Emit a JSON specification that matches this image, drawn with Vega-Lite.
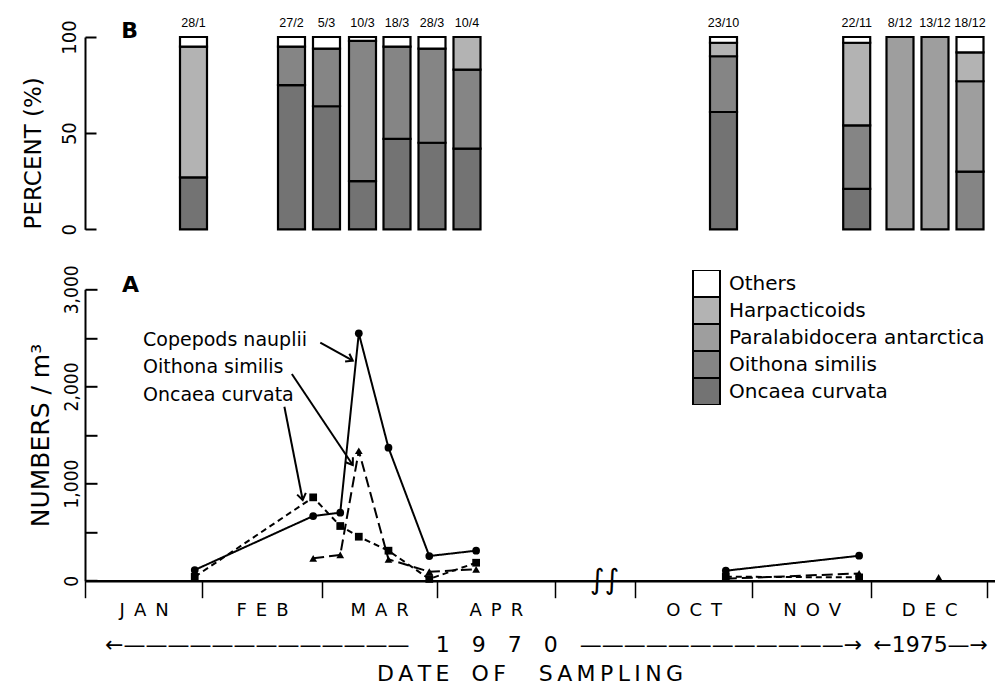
{
  "$schema": "https://vega.github.io/schema/vega-lite/v6.json",
  "background": "white",
  "padding": {"left": 22, "top": 17, "right": 0, "bottom": 0},
  "config": {
    "view": {"stroke": null},
    "axis": {"labelColor": "black", "titleColor": "black", "domainColor": "black", "tickColor": "black", "grid": false}
  },
  "datasets": {
    "bars": [
      {"date": "1970/01/28", "label": "28/1", "taxon": "Oncaea curvata", "pct": 27},
      {"date": "1970/01/28", "label": "28/1", "taxon": "Harpacticoids", "pct": 68},
      {"date": "1970/01/28", "label": "28/1", "taxon": "Others", "pct": 5},
      {"date": "1970/02/27", "label": "27/2", "taxon": "Oncaea curvata", "pct": 75},
      {"date": "1970/02/27", "label": "27/2", "taxon": "Oithona similis", "pct": 20},
      {"date": "1970/02/27", "label": "27/2", "taxon": "Others", "pct": 5},
      {"date": "1970/03/05", "label": "5/3", "taxon": "Oncaea curvata", "pct": 64},
      {"date": "1970/03/05", "label": "5/3", "taxon": "Oithona similis", "pct": 30},
      {"date": "1970/03/05", "label": "5/3", "taxon": "Others", "pct": 6},
      {"date": "1970/03/10", "label": "10/3", "taxon": "Oncaea curvata", "pct": 25},
      {"date": "1970/03/10", "label": "10/3", "taxon": "Oithona similis", "pct": 73},
      {"date": "1970/03/10", "label": "10/3", "taxon": "Others", "pct": 2},
      {"date": "1970/03/18", "label": "18/3", "taxon": "Oncaea curvata", "pct": 47},
      {"date": "1970/03/18", "label": "18/3", "taxon": "Oithona similis", "pct": 48},
      {"date": "1970/03/18", "label": "18/3", "taxon": "Others", "pct": 5},
      {"date": "1970/03/28", "label": "28/3", "taxon": "Oncaea curvata", "pct": 45},
      {"date": "1970/03/28", "label": "28/3", "taxon": "Oithona similis", "pct": 49},
      {"date": "1970/03/28", "label": "28/3", "taxon": "Others", "pct": 6},
      {"date": "1970/04/10", "label": "10/4", "taxon": "Oncaea curvata", "pct": 42},
      {"date": "1970/04/10", "label": "10/4", "taxon": "Oithona similis", "pct": 41},
      {"date": "1970/04/10", "label": "10/4", "taxon": "Harpacticoids", "pct": 17},
      {"date": "1970/10/23", "label": "23/10", "taxon": "Oncaea curvata", "pct": 61},
      {"date": "1970/10/23", "label": "23/10", "taxon": "Oithona similis", "pct": 29},
      {"date": "1970/10/23", "label": "23/10", "taxon": "Harpacticoids", "pct": 7},
      {"date": "1970/10/23", "label": "23/10", "taxon": "Others", "pct": 3},
      {"date": "1970/11/22", "label": "22/11", "taxon": "Oncaea curvata", "pct": 21},
      {"date": "1970/11/22", "label": "22/11", "taxon": "Oithona similis", "pct": 33},
      {"date": "1970/11/22", "label": "22/11", "taxon": "Harpacticoids", "pct": 43},
      {"date": "1970/11/22", "label": "22/11", "taxon": "Others", "pct": 3},
      {"date": "1975/12/08", "label": "8/12", "taxon": "Paralabidocera antarctica", "pct": 100},
      {"date": "1975/12/13", "label": "13/12", "taxon": "Paralabidocera antarctica", "pct": 100},
      {"date": "1975/12/18", "label": "18/12", "taxon": "Oithona similis", "pct": 30},
      {"date": "1975/12/18", "label": "18/12", "taxon": "Paralabidocera antarctica", "pct": 47},
      {"date": "1975/12/18", "label": "18/12", "taxon": "Harpacticoids", "pct": 15},
      {"date": "1975/12/18", "label": "18/12", "taxon": "Others", "pct": 8}
    ],
    "counts": [
      {"series": "Copepods nauplii", "date": "1970/01/30", "n": 110, "period": "1970a"},
      {"series": "Copepods nauplii", "date": "1970/02/27", "n": 666, "period": "1970a"},
      {"series": "Copepods nauplii", "date": "1970/03/06", "n": 700, "period": "1970a"},
      {"series": "Copepods nauplii", "date": "1970/03/11", "n": 2547, "period": "1970a"},
      {"series": "Copepods nauplii", "date": "1970/03/19", "n": 1369, "period": "1970a"},
      {"series": "Copepods nauplii", "date": "1970/03/30", "n": 254, "period": "1970a"},
      {"series": "Copepods nauplii", "date": "1970/04/11", "n": 309, "period": "1970a"},
      {"series": "Copepods nauplii", "date": "1970/10/25", "n": 103, "period": "1970b"},
      {"series": "Copepods nauplii", "date": "1970/11/28", "n": 257, "period": "1970b"},
      {"series": "Oithona similis", "date": "1970/02/27", "n": 230, "period": "1970a"},
      {"series": "Oithona similis", "date": "1970/03/06", "n": 265, "period": "1970a"},
      {"series": "Oithona similis", "date": "1970/03/11", "n": 1338, "period": "1970a"},
      {"series": "Oithona similis", "date": "1970/03/19", "n": 220, "period": "1970a"},
      {"series": "Oithona similis", "date": "1970/03/30", "n": 93, "period": "1970a"},
      {"series": "Oithona similis", "date": "1970/04/11", "n": 117, "period": "1970a"},
      {"series": "Oithona similis", "date": "1970/10/25", "n": 20, "period": "1970b"},
      {"series": "Oithona similis", "date": "1970/11/28", "n": 75, "period": "1970b"},
      {"series": "Oithona similis", "date": "1975/12/19", "n": 34, "period": "1975"},
      {"series": "Oncaea curvata", "date": "1970/01/30", "n": 40, "period": "1970a"},
      {"series": "Oncaea curvata", "date": "1970/02/27", "n": 858, "period": "1970a"},
      {"series": "Oncaea curvata", "date": "1970/03/06", "n": 563, "period": "1970a"},
      {"series": "Oncaea curvata", "date": "1970/03/11", "n": 453, "period": "1970a"},
      {"series": "Oncaea curvata", "date": "1970/03/19", "n": 309, "period": "1970a"},
      {"series": "Oncaea curvata", "date": "1970/03/30", "n": 18, "period": "1970a"},
      {"series": "Oncaea curvata", "date": "1970/04/11", "n": 185, "period": "1970a"},
      {"series": "Oncaea curvata", "date": "1970/10/25", "n": 41, "period": "1970b"},
      {"series": "Oncaea curvata", "date": "1970/11/28", "n": 34, "period": "1970b"}
    ]
  },
  "bounds": "flush",
  "spacing": 59.3,
  "resolve": {"scale": {"x": "independent", "y": "independent"}},
  "vconcat": [
    {
      "width": 910,
      "height": 192.3,
      "data": {"name": "bars"},
      "layer": [
        {
          "transform": [
            {"calculate": "indexof(['Oncaea curvata','Oithona similis','Paralabidocera antarctica','Harpacticoids','Others'], datum.taxon)", "as": "k"}
          ],
          "mark": {"type": "bar", "size": 27, "stroke": "black", "strokeWidth": 2.2},
          "encoding": {
            "x": {
              "field": "date", "type": "temporal", "axis": null,
              "scale": {"type": "time", "nice": false,
                "domainRaw": {"expr": "[datetime(1970,0,1), datetime(1970,0,28), datetime(1970,1,27), datetime(1970,2,5), datetime(1970,2,10), datetime(1970,2,18), datetime(1970,2,28), datetime(1970,3,10), datetime(1970,9,23), datetime(1970,10,22), datetime(1975,11,8), datetime(1975,11,13), datetime(1975,11,18)]"},
                "range": [0, 108.5, 206.5, 241.5, 277.5, 312, 347, 382, 638.5, 771.7, 815, 850, 885]}
            },
            "y": {
              "field": "pct", "type": "quantitative", "stack": "zero",
              "scale": {"domain": [0, 100], "nice": false},
              "axis": {
                "values": [0, 50, 100], "tickSize": -11, "tickWidth": 2, "domainWidth": 2,
                "labelAngle": 270, "labelAlign": "center", "labelBaseline": "alphabetic", "labelPadding": 21,
                "labelFont": "Liberation Sans Narrow, DejaVu Sans Condensed, Liberation Sans", "labelFontSize": 20,
                "title": "PERCENT (%)", "titleFont": "DejaVu Sans", "titleFontSize": 23, "titleFontWeight": "normal",
                "titleAngle": 270, "titleX": -51.5, "titleY": 115.8, "titleBaseline": "middle", "titleAlign": "center"
              }
            },
            "fill": {
              "field": "taxon", "type": "nominal",
              "scale": {
                "domain": ["Others", "Harpacticoids", "Paralabidocera antarctica", "Oithona similis", "Oncaea curvata"],
                "range": ["#ffffff", "#b3b3b3", "#9e9e9e", "#858585", "#737373"]
              },
              "legend": {
                "orient": "none", "legendX": 607, "legendY": 233, "title": null,
                "symbolType": "square", "symbolSize": 729, "symbolStrokeColor": "black", "symbolStrokeWidth": 2,
                "clipHeight": 27, "rowPadding": 0, "padding": 0, "symbolOffset": 0,
                "labelFont": "DejaVu Sans", "labelFontSize": 20, "labelColor": "black", "labelOffset": 8, "labelLimit": 400
              }
            },
            "order": {"field": "k", "type": "quantitative"}
          }
        },
        {
          "transform": [{"aggregate": [{"op": "count", "as": "c"}], "groupby": ["date", "label"]}],
          "mark": {"type": "text", "baseline": "bottom", "dy": -7, "font": "Liberation Sans", "fontSize": 12.5, "color": "black"},
          "encoding": {
            "x": {"field": "date", "type": "temporal"},
            "y": {"datum": 100, "type": "quantitative", "scale": {"domain": [0, 100], "nice": false}},
            "text": {"field": "label", "type": "nominal"}
          }
        },
        {
          "data": {"values": [{}]},
          "mark": {"type": "text", "text": "B", "align": "left", "baseline": "middle", "font": "DejaVu Sans", "fontSize": 22, "fontWeight": "bold", "color": "black"},
          "encoding": {
            "x": {"datum": {"year": 1970, "month": 1, "date": 10}, "type": "temporal"},
            "y": {"datum": 103, "type": "quantitative", "scale": {"domain": [0, 100], "nice": false}}
          }
        }
      ]
    },
    {
      "width": 910,
      "height": 291.4,
      "layer": [
        {
          "data": {"name": "counts"},
          "mark": {"type": "line", "color": "black", "strokeWidth": 2},
          "encoding": {
            "x": {
              "field": "date", "type": "temporal",
              "scale": {"type": "time", "nice": false,
                "domainRaw": {"expr": "[datetime(1970,0,1), datetime(1970,1,1), datetime(1970,2,1), datetime(1970,3,1), datetime(1970,4,1), datetime(1970,9,1), datetime(1970,10,1), datetime(1970,11,1), datetime(1975,11,1), datetime(1976,0,3)]"},
                "range": [0, 117.3, 236.7, 351.7, 470, 550, 667.3, 786, 786, 910]},
              "axis": {
                "values": [
                  {"year": 1970, "month": 1, "date": 1},
                  {"year": 1970, "month": 2, "date": 1},
                  {"year": 1970, "month": 3, "date": 1},
                  {"year": 1970, "month": 4, "date": 1},
                  {"year": 1970, "month": 5, "date": 1},
                  {"year": 1970, "month": 10, "date": 1},
                  {"year": 1970, "month": 11, "date": 1},
                  {"year": 1975, "month": 12, "date": 1},
                  {"year": 1976, "month": 1, "date": 1},
                  {"year": 1970, "month": 1, "date": 16, "hours": 12},
                  {"year": 1970, "month": 2, "date": 15},
                  {"year": 1970, "month": 3, "date": 16, "hours": 12},
                  {"year": 1970, "month": 4, "date": 16},
                  {"year": 1970, "month": 10, "date": 16, "hours": 12},
                  {"year": 1970, "month": 11, "date": 16},
                  {"year": 1975, "month": 12, "date": 16, "hours": 12}
                ],
                "labelExpr": "date(datum.value) == 1 ? '' : upper(slice(timeFormat(datum.value,'%b'),0,1) + '\u2002' + slice(timeFormat(datum.value,'%b'),1,2) + '\u2002' + slice(timeFormat(datum.value,'%b'),2,3))",
                "tickOpacity": {"condition": {"test": "date(datum.value) != 1", "value": 0}, "value": 1},
                "tickSize": 17, "tickWidth": 1.5, "domainWidth": 2.5,
                "labelFont": "DejaVu Sans", "labelFontSize": 18, "labelPadding": 4, "labelOverlap": false, "labelFlush": false,
                "title": [
                  "←—————————————\u2003\u20091\u20039\u20037\u20030\u2003————————————→\u2002←1975—→",
                  "D\u2009A\u2009T\u2009E\u2003O\u2009F\u2003\u2002S\u2009A\u2009M\u2009P\u2009L\u2009I\u2009N\u2009G\u2003\u2002\u2060"
                ],
                "titleFont": "DejaVu Sans", "titleFontSize": 22, "titleFontWeight": "normal", "titleLineHeight": 29,
                "titlePadding": 15, "titleX": 461
              }
            },
            "y": {
              "field": "n", "type": "quantitative",
              "scale": {"domain": [0, 3000], "nice": false},
              "axis": {
                "values": [0, 500, 1000, 1500, 2000, 2500, 3000],
                "labelExpr": "datum.value % 1000 == 0 ? format(datum.value, ',') : ''",
                "tickSize": -12, "tickWidth": 2, "domainWidth": 2,
                "labelAngle": 270, "labelAlign": "center", "labelBaseline": "alphabetic", "labelPadding": 20,
                "labelFont": "Liberation Sans Narrow, DejaVu Sans Condensed, Liberation Sans", "labelFontSize": 19,
                "title": "NUMBERS / m³", "titleFont": "DejaVu Sans", "titleFontSize": 25, "titleFontWeight": "normal",
                "titleAngle": 270, "titleX": -45, "titleY": 145.7, "titleBaseline": "middle", "titleAlign": "center"
              }
            },
            "strokeDash": {
              "field": "series", "type": "nominal",
              "scale": {"domain": ["Copepods nauplii", "Oithona similis", "Oncaea curvata"], "range": [[1, 0], [11, 5], [6, 4]]},
              "legend": null
            },
            "detail": {"field": "period"}
          }
        },
        {
          "data": {"name": "counts"},
          "mark": {"type": "point", "filled": true, "color": "black", "size": 60, "opacity": 1},
          "encoding": {
            "x": {"field": "date", "type": "temporal"},
            "y": {"field": "n", "type": "quantitative", "scale": {"domain": [0, 3000], "nice": false}},
            "shape": {
              "field": "series", "type": "nominal",
              "scale": {"domain": ["Copepods nauplii", "Oithona similis", "Oncaea curvata"], "range": ["circle", "triangle-up", "square"]},
              "legend": null
            }
          }
        },
        {
          "data": {"values": [{}]},
          "mark": {"type": "text", "text": "Copepods nauplii", "align": "left", "baseline": "middle", "font": "DejaVu Sans", "fontSize": 19, "color": "black"},
          "encoding": {
            "x": {"datum": {"year": 1970, "month": 1, "date": 16, "hours": 8}, "type": "temporal"},
            "y": {"datum": 2478, "type": "quantitative", "scale": {"domain": [0, 3000], "nice": false}}
          }
        },
        {
          "data": {"values": [{}]},
          "mark": {"type": "text", "text": "Oithona similis", "align": "left", "baseline": "middle", "font": "DejaVu Sans", "fontSize": 19, "color": "black"},
          "encoding": {
            "x": {"datum": {"year": 1970, "month": 1, "date": 16, "hours": 8}, "type": "temporal"},
            "y": {"datum": 2200, "type": "quantitative", "scale": {"domain": [0, 3000], "nice": false}}
          }
        },
        {
          "data": {"values": [{}]},
          "mark": {"type": "text", "text": "Oncaea curvata", "align": "left", "baseline": "middle", "font": "DejaVu Sans", "fontSize": 19, "color": "black"},
          "encoding": {
            "x": {"datum": {"year": 1970, "month": 1, "date": 16, "hours": 8}, "type": "temporal"},
            "y": {"datum": 1912, "type": "quantitative", "scale": {"domain": [0, 3000], "nice": false}}
          }
        },
        {
          "data": {"values": [{}]},
          "mark": {"type": "rule", "color": "black", "strokeWidth": 2},
          "encoding": {
            "x": {"datum": {"year": 1970, "month": 2, "date": 28, "hours": 16}, "type": "temporal"},
            "x2": {"datum": {"year": 1970, "month": 3, "date": 9, "hours": 9}},
            "y": {"datum": 2450, "type": "quantitative", "scale": {"domain": [0, 3000], "nice": false}},
            "y2": {"datum": 2265}
          }
        },
        {
          "data": {"values": [{}]},
          "mark": {"type": "rule", "color": "black", "strokeWidth": 2},
          "encoding": {
            "x": {"datum": {"year": 1970, "month": 2, "date": 22}, "type": "temporal"},
            "x2": {"datum": {"year": 1970, "month": 3, "date": 9, "hours": 9}},
            "y": {"datum": 2128, "type": "quantitative", "scale": {"domain": [0, 3000], "nice": false}},
            "y2": {"datum": 1191}
          }
        },
        {
          "data": {"values": [{}]},
          "mark": {"type": "rule", "color": "black", "strokeWidth": 2},
          "encoding": {
            "x": {"datum": {"year": 1970, "month": 2, "date": 20, "hours": 6}, "type": "temporal"},
            "x2": {"datum": {"year": 1970, "month": 2, "date": 24, "hours": 13}},
            "y": {"datum": 1791, "type": "quantitative", "scale": {"domain": [0, 3000], "nice": false}},
            "y2": {"datum": 831}
          }
        },
        {
          "data": {"values": [{}]},
          "mark": {"type": "point", "shape": "M-1,-0.7L0,0L-1,0.7", "filled": false, "stroke": "black", "strokeWidth": 2, "size": 160, "angle": 29, "opacity": 1},
          "encoding": {
            "x": {"datum": {"year": 1970, "month": 3, "date": 9, "hours": 9}, "type": "temporal"},
            "y": {"datum": 2265, "type": "quantitative", "scale": {"domain": [0, 3000], "nice": false}}
          }
        },
        {
          "data": {"values": [{}]},
          "mark": {"type": "point", "shape": "M-1,-0.7L0,0L-1,0.7", "filled": false, "stroke": "black", "strokeWidth": 2, "size": 160, "angle": 56, "opacity": 1},
          "encoding": {
            "x": {"datum": {"year": 1970, "month": 3, "date": 9, "hours": 9}, "type": "temporal"},
            "y": {"datum": 1191, "type": "quantitative", "scale": {"domain": [0, 3000], "nice": false}}
          }
        },
        {
          "data": {"values": [{}]},
          "mark": {"type": "point", "shape": "M-1,-0.7L0,0L-1,0.7", "filled": false, "stroke": "black", "strokeWidth": 2, "size": 160, "angle": 79, "opacity": 1},
          "encoding": {
            "x": {"datum": {"year": 1970, "month": 2, "date": 24, "hours": 13}, "type": "temporal"},
            "y": {"datum": 831, "type": "quantitative", "scale": {"domain": [0, 3000], "nice": false}}
          }
        },
        {
          "data": {"values": [{}]},
          "mark": {"type": "text", "text": "A", "align": "left", "baseline": "middle", "font": "DejaVu Sans", "fontSize": 22, "fontWeight": "bold", "color": "black"},
          "encoding": {
            "x": {"datum": {"year": 1970, "month": 1, "date": 10, "hours": 19}, "type": "temporal"},
            "y": {"datum": 3049, "type": "quantitative", "scale": {"domain": [0, 3000], "nice": false}}
          }
        },
        {
          "data": {"values": [{}]},
          "mark": {"type": "text", "text": "∫∫", "align": "center", "baseline": "middle", "font": "DejaVu Sans", "fontSize": 28, "color": "black"},
          "encoding": {
            "x": {"datum": {"year": 1970, "month": 8, "date": 4}, "type": "temporal"},
            "y": {"datum": 0, "type": "quantitative", "scale": {"domain": [0, 3000], "nice": false}}
          }
        }
      ]
    }
  ]
}
